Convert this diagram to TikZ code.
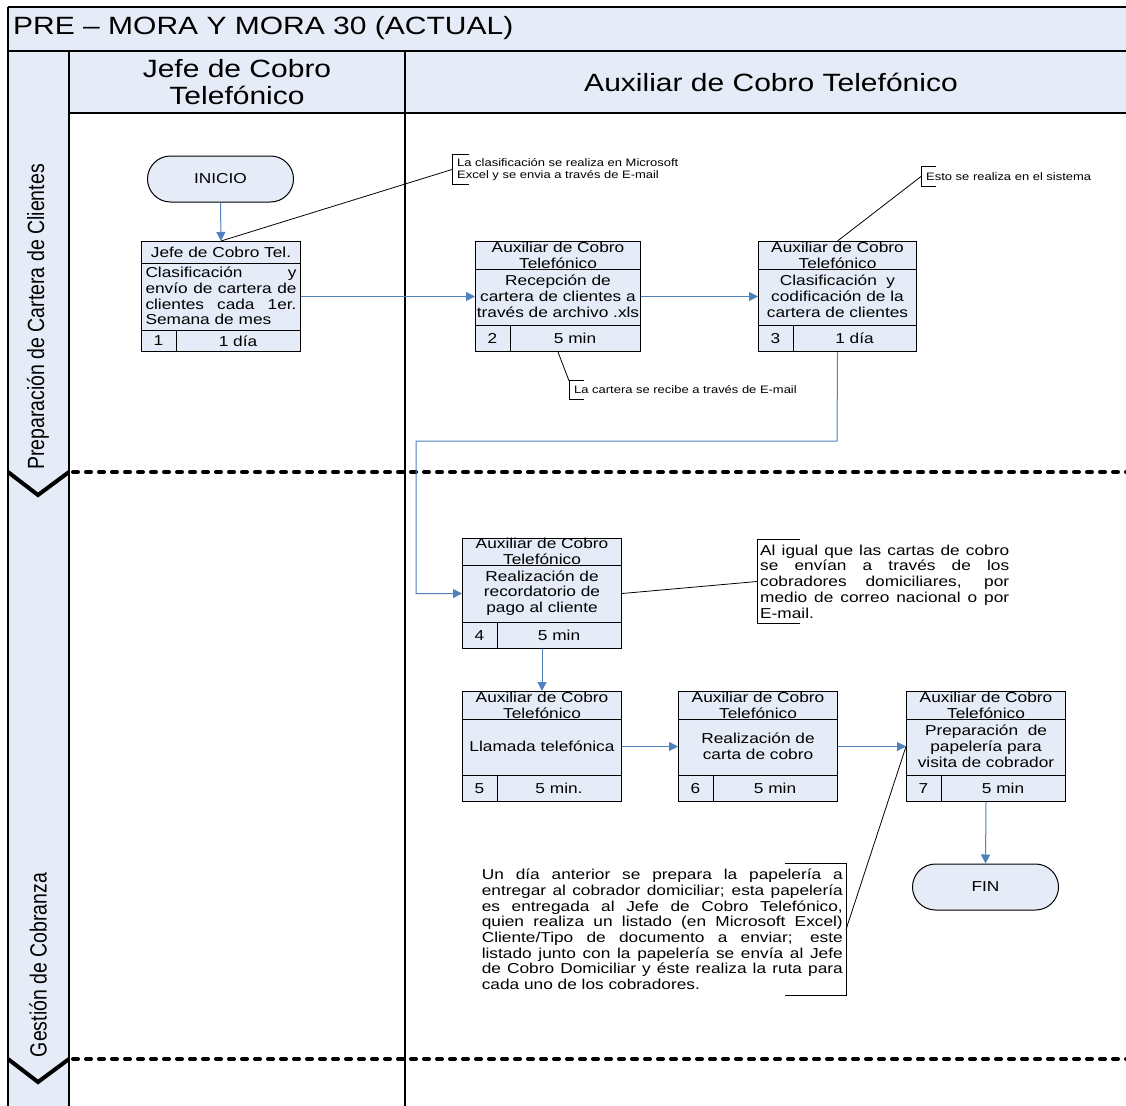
\documentclass[tikz,border=0pt]{standalone}
\usepackage{fontspec}
\setmainfont{Liberation Sans}[FakeStretch=1.2]
\newfontfamily\lanefamily{Liberation Sans}
\usetikzlibrary{arrows.meta,calc}

\definecolor{lanefill}{HTML}{E6ECF7}
\definecolor{flowblue}{HTML}{4F81BD}

% font sizes
\newcommand\ttlfont{\fontsize{25}{27}\selectfont}
\newcommand\boxfont{\fontsize{14.4}{15.8}\selectfont}
\newcommand\notefont{\fontsize{14.4}{15.7}\selectfont}
\newcommand\smallnote{\fontsize{10.8}{12}\selectfont}
\newcommand\lanefont{\lanefamily\fontsize{19.5}{21}\selectfont}
% a line of text spread to the given width (justified line)
\newcommand\jl[2]{\leavevmode\hbox to #1pt{\spaceskip=\fontdimen2\font plus 1fil\relax
  \xspaceskip=\spaceskip #2}}
% a line of text set flush left in the given width
\newcommand\flushline[2]{\leavevmode\hbox to #1pt{#2\hfil}}

\tikzset{
  frameline/.style={draw=black, line width=1.2pt},
  procbox/.style={draw=black, fill=lanefill, line width=1pt, inner sep=0pt},
  boxrule/.style={draw=black, line width=1pt},
  boxtext/.style={font=\boxfont, align=center, inner sep=0pt},
  terminal/.style={draw=black, fill=lanefill, line width=1pt, rounded corners=23pt,
    minimum width=146pt, minimum height=46pt, font=\boxfont, inner sep=0pt},
  flow/.style={draw=flowblue, line width=1pt, -{Triangle[length=9pt,width=9pt]}},
  leader/.style={draw=black, line width=0.8pt},
  bracket/.style={draw=black, line width=0.8pt},
  note/.style={align=left, inner ysep=0pt},
  separator/.style={draw=black, line width=4pt, line cap=round, dash pattern=on 5pt off 8pt},
  chevron/.style={draw=black, line width=4pt, line join=miter},
}

% process box: (left, top, width, header height, footer height){number}{role}{task}{duration}
\def\procbox(#1,#2,#3,#4,#5)#6#7#8#9{%
  \pgfmathsetmacro\pby{-(55+(#4-#5)/2)}%
  \pgfmathsetmacro\pbt{35+(#3-35)/2}%
  \node[procbox, minimum width=#3pt, minimum height=110pt, anchor=north west] (p#6) at (#1,#2) {};
  \draw[boxrule] ([yshift=-#4pt]p#6.north west) -- ([yshift=-#4pt]p#6.north east);
  \draw[boxrule] ([yshift=#5pt]p#6.south west) -- ([yshift=#5pt]p#6.south east);
  \draw[boxrule] ([xshift=35pt,yshift=#5pt]p#6.south west) -- ([xshift=35pt]p#6.south west);
  \node[boxtext] (p#6r) at ([yshift={-0.5*#4pt}]p#6.north) {#7};
  \node[boxtext] (p#6t) at ([yshift=\pby pt]p#6.north) {#8};
  \node[boxtext] (p#6n) at ([xshift=17.5pt,yshift={0.5*#5pt}]p#6.south west) {#6};
  \node[boxtext] (p#6d) at ([xshift=\pbt pt,yshift={0.5*#5pt}]p#6.south west) {#9};
}

\begin{document}
\begin{tikzpicture}[x=1pt,y=-1pt]
\useasboundingbox (0,0) rectangle (1126,1105);
\clip (0,0) rectangle (1126,1105);

% ---- pool frame, title and lanes
\fill[white] (0,0) rectangle (1126,1105);
\fill[lanefill] (8,7) rectangle (1130,51);
\fill[lanefill] (8,51) rectangle (69,1110);
\fill[lanefill] (69,51) rectangle (1130,113);
\draw[frameline] (8,7) -- (1130,7);
\draw[draw=black, line width=2pt] (8,51) -- (1130,51);
\draw[frameline] (69,113) -- (1130,113);
\draw[frameline] (8,7) -- (8,1110);
\draw[frameline] (69,51) -- (69,1110);
\draw[frameline] (405,51) -- (405,1110);

\node[anchor=west, font=\ttlfont, inner sep=0pt] (title) at (13,28) {PRE – MORA Y MORA 30 (ACTUAL)};
\node[font=\ttlfont, align=center, inner sep=0pt] (roleA) at (237,82) {Jefe de Cobro\\Telefónico};
\node[font=\ttlfont, inner sep=0pt] (roleB) at (771,82) {Auxiliar de Cobro Telefónico};

\node[rotate=90, inner sep=0pt] (phaseA) at (38,317)
  {\lanefont\scalebox{1}[1.2]{Preparación de Cartera de Clientes}};
\node[rotate=90, inner sep=0pt] (phaseB) at (38,965)
  {\lanefont\scalebox{1}[1.2]{Gestión de Cobranza}};

% ---- phase separators
\draw[separator] (73,472) -- (1130,472);
\draw[chevron] (8,472) -- (38,495) -- (69,472);
\draw[separator] (73,1059) -- (1130,1059);
\draw[chevron] (8,1059) -- (38,1082) -- (69,1059);

% ---- terminals
\node[terminal] (start) at (220.5,179) {INICIO};
\node[terminal] (stop) at (985.5,887) {FIN};

% ---- process steps
\procbox(141,241,159,22,22){1}{Jefe de Cobro Tel.}
  {\jl{151}{Clasificación y}\\\jl{151}{envío de cartera de}\\\jl{151}{clientes cada 1er.}\\\flushline{151}{Semana de mes}}{1 día}
\procbox(475,241,165,28,27){2}{Auxiliar de Cobro\\Telefónico}
  {Recepción de\\cartera de clientes a\\través de archivo .xls}{5 min}
\procbox(758,241,158,28,27){3}{Auxiliar de Cobro\\Telefónico}
  {Clasificación\ \ y\\codificación de la\\cartera de clientes}{1 día}
\procbox(462,538,159,27,27){4}{Auxiliar de Cobro\\Telefónico}
  {Realización de\\recordatorio de\\pago al cliente}{5 min}
\procbox(462,691,159,28,27){5}{Auxiliar de Cobro\\Telefónico}
  {Llamada telefónica}{5 min.}
\procbox(678,691,159,28,27){6}{Auxiliar de Cobro\\Telefónico}
  {Realización de\\carta de cobro}{5 min}
\procbox(906,691,159,28,27){7}{Auxiliar de Cobro\\Telefónico}
  {Preparación\ \ de\\papelería para\\visita de cobrador}{5 min}

% ---- flow connectors
\coordinate (r1) at (837,441);
\coordinate (r2) at (416,441);
\draw[flow] (start.south) -- (p1.north);
\draw[flow] (p1.east) -- (p2.west);
\draw[flow] (p2.east) -- (p3.west);
\draw[flow] (p3.south) -- (r1) -- (r2) |- (p4.west);
\draw[flow] (p4.south) -- (p5.north);
\draw[flow] (p5.east) -- (p6.west);
\draw[flow] (p6.east) -- (p7.west);
\draw[flow] (p7.south) -- (stop.north);

% ---- annotations
\node[note, anchor=west, minimum height=29pt, inner xsep=5pt, font=\smallnote] (nA) at (452,169.5)
  {La clasificación se realiza en Microsoft\\Excel y se envia a través de E-mail};
\draw[bracket] ([xshift=17pt]nA.north west) -- (nA.north west) -- (nA.south west) -- ([xshift=17pt]nA.south west);
\draw[leader] (nA.west) -- (p1.north);

\node[note, anchor=west, minimum height=19pt, inner xsep=5pt, font=\smallnote] (nB) at (921,176.5)
  {Esto se realiza en el sistema};
\draw[bracket] ([xshift=15pt]nB.north west) -- (nB.north west) -- (nB.south west) -- ([xshift=15pt]nB.south west);
\draw[leader] (nB.west) -- (p3.north);

\node[note, anchor=west, minimum height=18pt, inner xsep=5pt, font=\smallnote] (nC) at (569,390)
  {La cartera se recibe a través de E-mail};
\draw[bracket] ([xshift=15pt]nC.north west) -- (nC.north west) -- (nC.south west) -- ([xshift=15pt]nC.south west);
\draw[leader] (p2.south) -- (nC.north west);

\node[note, anchor=west, minimum height=83pt, inner xsep=3pt, font=\notefont] (nD) at (757,581.5)
  {\jl{249}{Al igual que las cartas de cobro}\\
   \jl{249}{se envían a través de los}\\
   \jl{249}{cobradores domiciliares, por}\\
   \jl{249}{medio de correo nacional o por}\\
   \flushline{249}{E-mail.}};
\draw[bracket] ([xshift=43pt]nD.north west) -- (nD.north west) -- (nD.south west) -- ([xshift=43pt]nD.south west);
\draw[leader] (p4.east) -- (nD.west);

\node[note, anchor=east, minimum height=131pt, inner xsep=3pt, font=\notefont] (nE) at (846,929.5)
  {\jl{361}{Un día anterior se prepara la papelería a}\\
   \jl{361}{entregar al cobrador domiciliar; esta papelería}\\
   \jl{361}{es entregada al Jefe de Cobro Telefónico,}\\
   \jl{361}{quien realiza un listado (en Microsoft Excel)}\\
   \jl{361}{Cliente/Tipo de documento a enviar; este}\\
   \jl{361}{listado junto con la papelería se envía al Jefe}\\
   \jl{361}{de Cobro Domiciliar y éste realiza la ruta para}\\
   \flushline{361}{cada uno de los cobradores.}};
\draw[bracket] ([xshift=-61pt]nE.north east) -- (nE.north east) -- (nE.south east) -- ([xshift=-61pt]nE.south east);
\draw[leader] (p7.west) -- (nE.east);
\end{tikzpicture}
\end{document}
